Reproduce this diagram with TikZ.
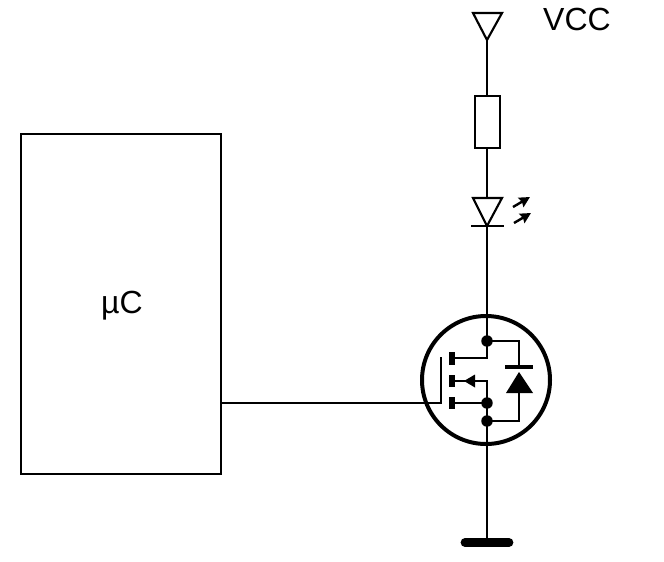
\documentclass[tikz,border=0pt]{standalone}
\usepackage{fontspec}
\setmainfont{Liberation Sans}
\usetikzlibrary{arrows.meta}
\tikzset{
  wire/.style={black, line width=1.6pt},
  part/.style={draw=black, line width=1.6pt, inner sep=0pt, outer sep=0pt},
  dot/.style={circle, fill=black, inner sep=0pt, outer sep=0pt, minimum size=8.6pt},
  channel/.style={black, line width=3.8pt},
  ray/.style={black, line width=1.8pt, -{Stealth[length=8pt,width=8pt,inset=1pt]}},
  label/.style={font=\fontsize{24}{24}\selectfont, inner sep=0pt}
}
\begin{document}
\begin{tikzpicture}[x=0.75pt, y=-0.75pt]
                \useasboundingbox (0,0) rectangle (664,561);

                %% controller
                \node[part, minimum width=150pt, minimum height=255pt] (mcu) at (121,304) {};
                \node[label] (mcutext) at (122,306) {µC};

                %VCC
                \coordinate (vccleft) at (473,13);
                \coordinate (vccright) at (502,13);
                \coordinate (vcctip) at (487,40);
                \draw[wire] (vccleft) -- (vccright) -- (vcctip) -- cycle;
                \node[label] (vcctext) at (577,19) {VCC};

                %R
                \node[part, minimum width=18.75pt, minimum height=39pt] (res) at (487.5,122) {};
                \draw[wire] (vcctip) -- (vcctip |- res.north);

                %LED
                \coordinate (ledleft) at (473,198);
                \coordinate (ledright) at (502,198);
                \coordinate (ledtop) at (487,198);
                \coordinate (ledtip) at (487,226);
                \coordinate (barleft) at (471,226);
                \coordinate (barright) at (504,226);
                \draw[wire] (ledtop |- res.south) -- (ledtop);
                \draw[wire] (ledleft) -- (ledright) -- (ledtip) -- cycle;
                \draw[wire] (barleft) -- (barright);
                \coordinate (rayatail) at (513,207);
                \coordinate (rayahead) at (530,197);
                \coordinate (raybtail) at (514,223);
                \coordinate (raybhead) at (531,213);
                \draw[ray] (rayatail) -- (rayahead);
                \draw[ray] (raybtail) -- (raybhead);

                %% MOSFET
                \node[circle, draw=black, line width=3pt, minimum size=96pt, inner sep=0pt] (fet) at (486,380) {};
                \node[dot] (drain) at (487,341) {};
                \node[dot] (bulk) at (487,403) {};
                \node[dot] (source) at (487,421) {};
                \draw[wire] (ledtip) -- (drain.center);

                %channel
                \draw[channel] (452,352) -- (452,365);
                \draw[channel] (452,375) -- (452,387);
                \draw[channel] (452,397) -- (452,409);
                \coordinate (chdrain) at (452,358);
                \coordinate (chmid) at (452,381);
                \coordinate (chbulk) at (452,403);
                \draw[wire] (chdrain) -| (drain.center);
                \draw[wire] (chmid) -| (bulk.center);
                \draw[wire] (chbulk) -- (bulk.center);
                \draw[wire] (bulk.center) -- (source.center);
                \fill[black] (464,381) -- (475,374.5) -- (475,387.5) -- cycle;

                %gate
                \coordinate (gatetop) at (441,357);
                \coordinate (gatein) at (441,403);
                \draw[wire] (mcu.east |- gatein) -- (gatein) -- (gatetop);

                %body diode
                \coordinate (diodetop) at (519,367);
                \coordinate (diodetip) at (519,372);
                \coordinate (diodebot) at (519,393);
                \draw[wire] (drain.center) -| (diodetop);
                \draw[black, line width=3pt] (505,367) -- (533,367);
                \fill[black] (diodetip) -- (533,393) -- (506,393) -- cycle;
                \draw[wire] (diodebot) |- (source.center);

                %% ground
                \coordinate (gndtop) at (487,542);
                \draw[wire] (source.center) -- (gndtop);
                \draw[black, line width=6.6pt, line cap=round] (465,542.5) -- (509,542.5);

\end{tikzpicture}
\end{document}
